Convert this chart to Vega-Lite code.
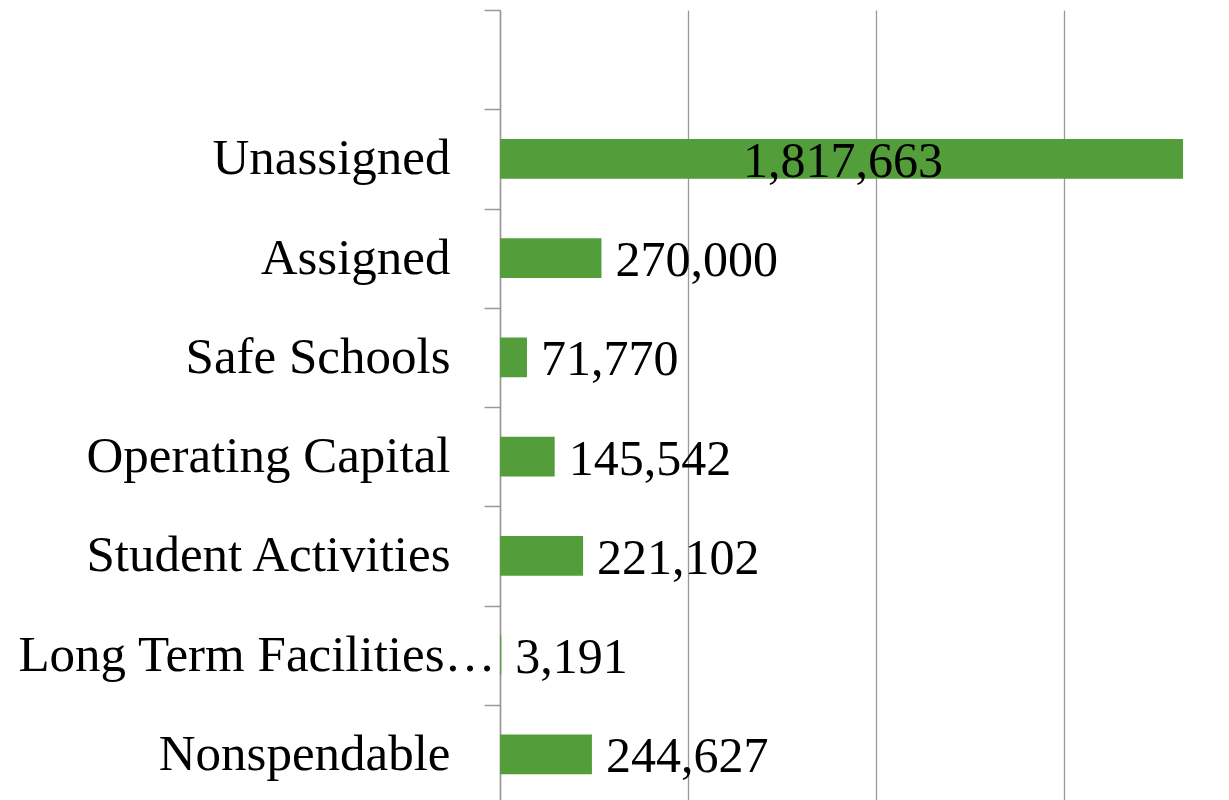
{
  "$schema": "https://vega.github.io/schema/vega-lite/v6.json",
  "width": 729,
  "height": 794,
  "autosize": {"type": "none"},
  "padding": {"left": 500, "top": 10, "right": 0, "bottom": 0},
  "background": "white",
  "config": {"view": {"stroke": null}, "font": "Liberation Serif"},
  "data": {
    "values": [
      {"category": "Unassigned", "value": 1817663},
      {"category": "Assigned", "value": 270000},
      {"category": "Safe Schools", "value": 71770},
      {"category": "Operating Capital", "value": 145542},
      {"category": "Student Activities", "value": 221102},
      {"category": "Long Term Facilities…", "value": 3191},
      {"category": "Nonspendable", "value": 244627}
    ]
  },
  "encoding": {
    "y": {
      "field": "category",
      "type": "nominal",
      "sort": null,
      "scale": {
        "domain": [" ", "Unassigned", "Assigned", "Safe Schools", "Operating Capital", "Student Activities", "Long Term Facilities…", "Nonspendable"],
        "paddingInner": 0,
        "paddingOuter": 0
      },
      "axis": {
        "title": null,
        "domainColor": "#999999",
        "domainWidth": 1.5,
        "tickColor": "#999999",
        "tickWidth": 1.5,
        "tickSize": 16,
        "tickBand": "extent",
        "labelFont": "Liberation Serif",
        "labelFontSize": 51,
        "labelColor": "black",
        "labelPadding": {"condition": {"test": "datum.value === 'Long Term Facilities…'", "value": -11}, "value": 34},
        "labelLimit": 0,
        "labelBaseline": "alphabetic",
        "labelOffset": 15
      }
    }
  },
  "layer": [
    {
      "mark": {"type": "bar", "color": "#539E3A", "height": {"band": 0.4}},
      "encoding": {
        "x": {
          "field": "value",
          "type": "quantitative",
          "scale": {"domain": [0, 1940000], "nice": false, "zero": true},
          "axis": {
            "title": null,
            "labels": false,
            "ticks": false,
            "domain": false,
            "grid": true,
            "gridColor": "#999999",
            "gridWidth": 1.3,
            "values": [0, 500000, 1000000, 1500000]
          }
        }
      }
    },
    {
      "transform": [{"filter": "datum.value < 1000000"}],
      "mark": {"type": "text", "align": "left", "baseline": "alphabetic", "dx": 14, "dy": 18, "fontSize": 50, "font": "Liberation Serif", "color": "black"},
      "encoding": {
        "x": {"field": "value", "type": "quantitative"},
        "text": {"field": "value", "type": "quantitative", "format": ","}
      }
    },
    {
      "transform": [{"filter": "datum.value >= 1000000"}],
      "mark": {"type": "text", "align": "center", "baseline": "alphabetic", "dx": -340, "dy": 18, "fontSize": 50, "font": "Liberation Serif", "color": "black"},
      "encoding": {
        "x": {"field": "value", "type": "quantitative"},
        "text": {"field": "value", "type": "quantitative", "format": ","}
      }
    }
  ]
}
